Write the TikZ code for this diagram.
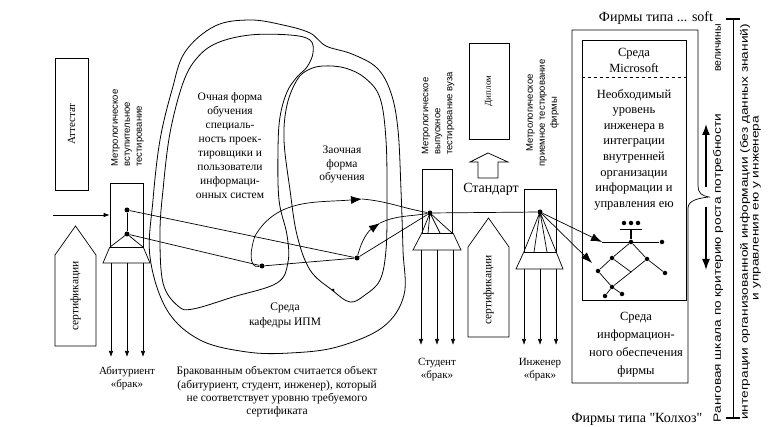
\documentclass[tikz,border=0pt]{standalone}
\usepackage{fontspec}
\setmainfont{Liberation Serif}
\setsansfont{Liberation Sans}
\newfontfamily\plainserif{Liberation Serif}
\usetikzlibrary{arrows.meta,shapes.geometric,calc}
\begin{document}
\begin{tikzpicture}[x=1pt,y=-1pt,line width=0.7pt,
  box/.style={draw,inner sep=0pt},
  dot/.style={circle,fill,inner sep=0pt,minimum size=5pt},
  sdot/.style={circle,fill,inner sep=0pt,minimum size=3pt},
  tdot/.style={circle,fill,inner sep=0pt,minimum size=4.5pt},
  sarr/.style={-{Latex[length=6pt,width=4.5pt]}},
  barr/.style={-{Latex[length=11pt,width=8pt]}},
  lbl/.style={font=\fontsize{11}{13}\selectfont,align=center,inner sep=0pt},
  mlbl/.style={font=\sffamily\fontsize{9.5}{12}\selectfont,rotate=90,inner sep=0pt},
  rtxt/.style={font=\fontsize{11.5}{12}\selectfont,rotate=90,inner sep=0pt},
  stxt/.style={font=\sffamily\fontsize{10.5}{12}\selectfont,rotate=90,inner sep=0pt},
  blob/.style={draw,line width=0.8pt}]
\useasboundingbox (0,0) rectangle (769,427);

% ---------- left column ----------
\node[box,rotate=90,minimum width=132pt,minimum height=33pt,font=\fontsize{11}{12}\selectfont] (att) at (71.5,124) {Аттестат};
\draw (55,346) -- (55,255) -- (75.5,226) -- (96,255) -- (96,346) -- cycle;
\node[rtxt] (cert1) at (75.5,296) {сертификации};

% metrology box 1
\node[mlbl,align=left,anchor=west] (ml1) at (127.5,167) {Метрологическое\\вступительное\\тестирование};
\node[box,minimum width=33pt,minimum height=64pt] (m1) at (126.5,215) {};
\node[dot] (d1a) at (127,210) {};
\node[dot] (d1b) at (127,234) {};
\coordinate (in1) at (53,215);
\draw[sarr] (in1) -- (m1.west);
\draw (d1a) -- (d1b);
\draw (d1b.center) -- (m1.south west) (d1b.center) -- (m1.south east);
\draw (m1.south west) -- (103,263) -- (150,263) -- (m1.south east);
\coordinate (a11) at (111,357); \coordinate (a12) at (127,357); \coordinate (a13) at (143,357);
\draw[sarr] (111,263) -- (a11);
\draw[sarr] (127,263) -- (a12);
\draw[sarr] (143,263) -- (a13);
\node[lbl] (abit) at (127,378.5) {Абитуриент\\«брак»};

% ---------- blobs ----------
\draw[blob] plot[smooth cycle,tension=0.6] coordinates {(250,20) (283,25) (310,33) (326,46) (352,54) (377,68) (391,93) (398,130) (401,190) (403,250) (404,295) (383,327) (337,347) (290,353) (247,352) (200,340) (167,310) (150,257) (153,200) (160,140) (172,90) (185,52) (215,26)};
\draw[blob] plot[smooth cycle,tension=0.6] coordinates {(217,43) (250,35) (290,35) (310,40) (313,53) (307,67) (297,77) (287,92) (280,117) (278,150) (279,200) (287,235) (288,262) (277,283) (233,297) (193,309) (178,306) (163,283) (160,233) (163,190) (170,133) (183,83) (197,58)};
\draw[blob] plot[smooth cycle,tension=0.6] coordinates {(323,66) (345,68) (365,78) (380,98) (386,140) (387,200) (386,250) (380,280) (365,295) (350,302) (332,290) (310,270) (297,235) (290,190) (284,140) (287,105) (297,80) (308,70)};
\node[sdot] (zd) at (333,290) {};

\node[lbl,font=\fontsize{11.5}{14}\selectfont] (ochn) at (230,146) {Очная форма\\обучения\\специаль-\\ность проек-\\тировщики и\\пользователи\\информаци-\\онных систем};
\node[lbl,font=\fontsize{11.5}{13.5}\selectfont] (zaoch) at (342,164.5) {Заочная\\форма\\обучения};
\node[lbl,font=\fontsize{11.5}{15}\selectfont] (kaf) at (285,315.5) {Среда\\кафедры ИПМ};

% ---------- flow inside blobs ----------
\node[dot] (dL) at (262,266) {};
\node[dot] (dR) at (357,258) {};
\node[dot] (d2) at (430,213) {};
\node[dot] (d3) at (540,212) {};
\draw (d1a) -- (dR);
\draw (d1b) -- (dL);
\draw (dL) -- (dR);
\draw (dR) -- (d2);
\coordinate (upA) at (362,199);
\draw[barr] (dL) to[out=190,in=250] (255,236) to[out=60,in=185] (upA);
\draw (upA) to[out=-5,in=170] (d2);
\coordinate (upB) at (380,223);
\draw[barr] (dR) to[out=75,in=215] (upB);
\draw (upB) to[out=25,in=190] (d2);
\draw (d2) -- (d3);

% metrology box 2
\node[mlbl,align=left,anchor=west] (ml2) at (438,155) {Метрологическое\\выпускное\\тестирование вуза};
\node[box,minimum width=30pt,minimum height=64pt] (m2) at (437,201) {};
\draw (d2.center) -- (m2.south west) (d2.center) -- (428,233) (d2.center) -- (440,233) (d2.center) -- (m2.south east);
\draw (m2.south west) -- (413,250) -- (461,250) -- (453,233);
\coordinate (a21) at (421,345); \coordinate (a22) at (437,345); \coordinate (a23) at (453,345);
\draw[sarr] (421,250) -- (a21);
\draw[sarr] (437,250) -- (a22);
\draw[sarr] (453,250) -- (a23);
\node[lbl] (stud) at (437,369.5) {Студент\\«брак»};

% diploma / standard / certification
\node[box,rotate=90,minimum width=96pt,minimum height=40pt,font=\fontsize{9}{10}\selectfont] (dipl) at (489,91) {Диплом};
\draw (478,178) -- (478,162) -- (470,162) -- (488,153) -- (508,162) -- (498,162) -- (498,178) -- cycle;
\node[lbl,font=\fontsize{14}{14}\selectfont] (std) at (491,189) {Стандарт};
\draw (468,337) -- (468,247) -- (488.5,218) -- (509,247) -- (509,337) -- cycle;
\node[rtxt] (cert2) at (488.5,290) {сертификации};

% metrology box 3
\node[mlbl,align=center] (ml3) at (542.5,113) {Метрологическое\\приемное тестирование\\фирмы};
\node[box,minimum width=32pt,minimum height=63pt] (m3) at (540,220.5) {};
\draw (d3.center) -- (m3.south west) (d3.center) -- (534,252) (d3.center) -- (547,252) (d3.center) -- (m3.south east);
\draw (m3.south west) -- (516,269) -- (563,269) -- (m3.south east);
\coordinate (a31) at (524,345); \coordinate (a32) at (540,345); \coordinate (a33) at (556,345);
\draw[sarr] (524,269) -- (a31);
\draw[sarr] (540,269) -- (a32);
\draw[sarr] (556,269) -- (a33);
\node[lbl] (ing) at (540,369.5) {Инженер\\«брак»};

% ---------- firm ----------
\draw (572,30) -- (698,30) -- (698,186) .. controls (698,193) and (702,196) .. (709,197)
      .. controls (700,198) and (688,200) .. (688,208) -- (688,383) -- (572,383) -- cycle;
\node[box,minimum width=104pt,minimum height=260pt] (ms) at (634,170) {};
\draw[dashed,line width=0.4pt] (ms.west |- 0,77) -- (ms.east |- 0,77);
\node[lbl,font=\fontsize{12.5}{16}\selectfont] (msoft) at (634,60) {Среда\\Microsoft};
\node[lbl,font=\fontsize{12.5}{15.6}\selectfont] (need) at (634,149.5) {Необходимый\\уровень\\инженера в\\интеграции\\внутренней\\организации\\информации и\\управления ею};
\node[lbl,font=\fontsize{12.5}{18}\selectfont] (infs) at (636,344.5) {Среда\\информацион-\\ного обеспечения\\фирмы};

% tree
\node[tdot] (tC) at (631,242) {};
\node[tdot] (tA) at (612,258) {};
\node[tdot] (tB) at (647,259) {};
\node[tdot] (tD) at (598,271) {};
\node[tdot] (tE) at (665,273) {};
\node[tdot] (tF) at (612,287) {};
\node[tdot] (tG) at (605,296) {};
\node[tdot] (tH) at (622,294) {};
\node[tdot] (tR1) at (662,242) {};
\coordinate (tR) at (631,272);
\coordinate (tin) at (602,242);
\coordinate (tin2) at (592,263);
\node[tdot] (tp1) at (624,223) {};
\node[tdot] (tp2) at (631,223) {};
\node[tdot] (tp3) at (638,223) {};
\draw[line width=1.6pt] (620,229.5) -- (642,229.5);
\draw[line width=1.2pt] (631,229.5) -- (tC);
\draw (tin) -- (tR1);
\draw (tC) -- (tA) -- (tD) -- (tF) -- (tR) -- (tA);
\draw (tC) -- (tB) -- (tE);
\draw (tB) -- (tR);
\draw (tF) -- (tG);
\draw (tF) -- (tH);
\draw[barr] (d3) -- (tin);
\draw[barr] (d3) -- (tin2);

% ---------- scale ----------
\node[lbl,font=\fontsize{14}{14}\selectfont] (soft) at (656,18) {Фирмы типа ... soft};
\node[lbl,font=\plainserif\fontsize{14}{14}\selectfont] (kolh) at (637,419) {Фирмы типа "Колхоз"};
\coordinate (sT) at (733,19);
\coordinate (sB) at (733,418);
\draw (sT) -- (sB);
\draw[line width=2.2pt] (726,19) -- (740,19);
\draw[line width=2.2pt] (726,418) -- (740,418);
\coordinate (uA0) at (706,187); \coordinate (uA1) at (706,124);
\coordinate (dA0) at (706,207); \coordinate (dA1) at (706,270);
\draw[barr,line width=1.6pt] (uA0) -- (uA1);
\draw[barr,line width=1.6pt] (dA0) -- (dA1);
\node[stxt] (rank1) at (718,268) {\scalebox{1.3}[1]{Ранговая шкала по критерию роста потребности}};
\node[stxt] (rank1b) at (718,48) {величины};
\node[stxt] (rank2) at (745,222) {\scalebox{1.3}[1]{интеграции организованной информации (без данных знаний)}};
\node[stxt] (rank3) at (757,208) {\scalebox{1.3}[1]{и управления ею у инженера}};

% caption
\node[lbl,font=\fontsize{11.5}{13.4}\selectfont] (capt) at (277,392) {Бракованным объектом считается объект\\(абитуриент, студент, инженер), который\\не соответствует уровню требуемого\\сертификата};
\end{tikzpicture}
\end{document}
